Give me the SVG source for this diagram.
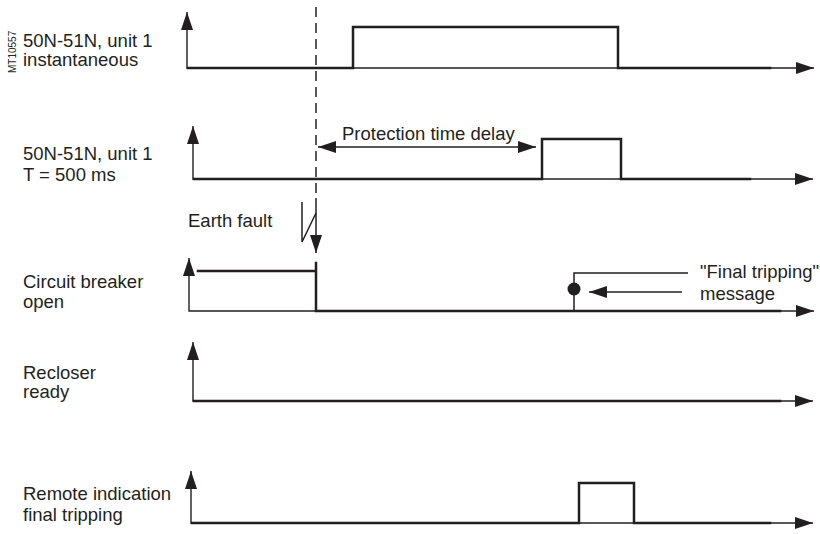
<svg xmlns="http://www.w3.org/2000/svg" width="820" height="534" viewBox="0 0 820 534">
<style>
  text { font-family: "Liberation Sans", Arial, sans-serif; font-size: 18.5px; fill: #231f20; }
  .axis { fill: none; stroke: #231f20; stroke-width: 1.4; marker-start: url(#ah); marker-end: url(#ah); }
  .sig { fill: none; stroke: #231f20; stroke-width: 2.5; stroke-linejoin: miter; stroke-linecap: square; }
  .thin { fill: none; stroke: #231f20; stroke-width: 1.5; }
  .dash { fill: none; stroke: #231f20; stroke-width: 1.5; stroke-dasharray: 10 6; }
</style>
<defs>
  <marker id="ah" markerUnits="userSpaceOnUse" markerWidth="18" markerHeight="12" refX="18" refY="6" orient="auto-start-reverse" viewBox="0 0 18 12">
    <path d="M0,0 L18,6 L0,12 z" fill="#231f20"/>
  </marker>
</defs>
<rect width="820" height="534" fill="#ffffff"/>

<text transform="translate(16,73) rotate(-90)" style="font-size:10px">MT10557</text>

<g id="inst">
  <text x="23" y="47">50N-51N, unit 1</text>
  <text x="23" y="66">instantaneous</text>
  <path class="axis" d="M187,12 V68 H814"/>
  <path class="sig" d="M188,68 H353 V27 H618 V68 H770"/>
</g>

<g id="delayed">
  <text x="23" y="160">50N-51N, unit 1</text>
  <text x="23" y="181">T = 500 ms</text>
  <path class="axis" d="M193,126 V179 H813"/>
  <path class="sig" d="M194,179 H542 V139 H621 V179 H750"/>
</g>

<g id="breaker">
  <text x="23" y="288">Circuit breaker</text>
  <text x="23" y="308">open</text>
  <path class="axis" d="M189,258 V311 H814"/>
  <path class="sig" d="M198,271 H316 M316,263 V311 H780"/>
  <path class="thin" d="M574,311 V273 H688"/>
  <circle cx="574" cy="289" r="6.5" fill="#231f20"/>
  <text x="700" y="278">"Final tripping"</text>
  <text x="700" y="300">message</text>
</g>

<g id="recloser">
  <text x="23" y="379">Recloser</text>
  <text x="23" y="398">ready</text>
  <path class="axis" d="M193,342 V401 H813"/>
  <path class="sig" d="M194,401 H780"/>
</g>

<g id="remote">
  <text x="23" y="500">Remote indication</text>
  <text x="23" y="521">final tripping</text>
  <path class="axis" d="M191,471 V523 H813"/>
  <path class="sig" d="M192,523 H579 V483 H634 V523 H770"/>
</g>

<g id="earthfault">
  <text x="188" y="227">Earth fault</text>
</g>

<g id="connectors">
  <path class="dash" d="M316,7 V196"/>
  <path class="thin" d="M316,198 V253" marker-end="url(#ah)"/>
  <path class="thin" d="M302,202 V242 L316,213"/>
  <path class="thin" d="M318,147 H536" marker-start="url(#ah)" marker-end="url(#ah)"/>
  <text x="342" y="140">Protection time delay</text>
  <path class="thin" d="M682,292 H589" marker-end="url(#ah)"/>
</g>
</svg>
